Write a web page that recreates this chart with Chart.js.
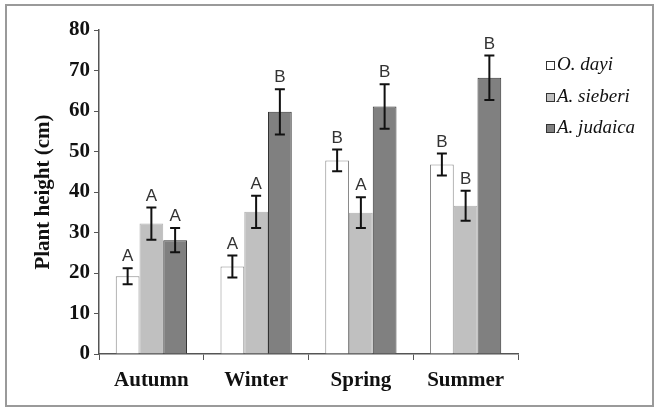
<!DOCTYPE html>
<html>
<head>
<meta charset="utf-8">
<script src="https://cdn.jsdelivr.net/npm/chart.js@4/dist/chart.umd.min.js"></script>
<style>
html, body { margin: 0; padding: 0; background: #fff; }
#wrap { position: relative; width: 658px; height: 412px; }
#frame { position: absolute; left: 5px; top: 4px; width: 645px; height: 399px; border: 2px solid #9a9a9a; pointer-events: none; }
</style>
</head>
<body>
<div id="wrap">
  <canvas id="chart" width="658" height="412"></canvas>
  <div id="frame"></div>
</div>
<script>
var seasons = ["Autumn", "Winter", "Spring", "Summer"];
var dayi = [19.2, 21.6, 47.8, 46.8];
var dayiErr = [2.0, 2.7, 2.7, 2.7];
var dayiLetters = ["A", "A", "B", "B"];
var sieberi = [32.2, 35.1, 34.9, 36.6];
var sieberiErr = [4.0, 4.0, 3.8, 3.7];
var sieberiLetters = ["A", "A", "A", "B"];
var judaica = [28.1, 59.8, 61.1, 68.2];
var judaicaErr = [3.0, 5.6, 5.5, 5.5];
var judaicaLetters = ["A", "B", "B", "B"];

// error bars and significance letters on top of each bar
var errorBars = {
  id: 'errorBars',
  afterDatasetsDraw: function(chart) {
    var ctx = chart.ctx, y = chart.scales.y;
    chart.data.datasets.forEach(function(ds, i) {
      chart.getDatasetMeta(i).data.forEach(function(bar, j) {
        var v = ds.data[j], e = ds.err[j];
        var top = y.getPixelForValue(v + e), bot = y.getPixelForValue(v - e);
        ctx.save();
        ctx.strokeStyle = '#111';
        ctx.lineWidth = 2;
        ctx.beginPath();
        ctx.moveTo(bar.x, top); ctx.lineTo(bar.x, bot);
        ctx.moveTo(bar.x - 5, top); ctx.lineTo(bar.x + 5, top);
        ctx.moveTo(bar.x - 5, bot); ctx.lineTo(bar.x + 5, bot);
        ctx.stroke();
        ctx.fillStyle = '#333';
        ctx.font = '17px "Liberation Sans"';
        ctx.textAlign = 'center';
        ctx.textBaseline = 'bottom';
        ctx.fillText(ds.letters[j], bar.x, top - 3);
        ctx.restore();
      });
    });
  }
};

// legend box on the right
var sideLegend = {
  id: 'sideLegend',
  afterDraw: function(chart) {
    var ctx = chart.ctx;
    var rows = [65, 97, 128];
    chart.data.datasets.forEach(function(ds, i) {
      var cy = rows[i];
      ctx.save();
      ctx.fillStyle = ds.backgroundColor;
      ctx.fillRect(546, cy - 4, 8, 8);
      ctx.strokeStyle = '#333';
      ctx.lineWidth = 1;
      ctx.strokeRect(546.5, cy - 3.5, 8, 8);
      ctx.fillStyle = '#111';
      ctx.font = 'italic 19px "Liberation Serif"';
      ctx.textAlign = 'left';
      ctx.textBaseline = 'middle';
      ctx.fillText(ds.label, 557, cy);
      ctx.restore();
    });
  }
};

function draw() {
  new Chart(document.getElementById('chart').getContext('2d'), {
    type: 'bar',
    data: {
      labels: seasons,
      datasets: [
        { label: 'O. dayi', data: dayi, err: dayiErr, letters: dayiLetters,
          backgroundColor: '#ffffff', borderColor: '#8a8a8a', borderWidth: 1 },
        { label: 'A. sieberi', data: sieberi, err: sieberiErr, letters: sieberiLetters,
          backgroundColor: '#c0c0c0', borderColor: '#b0b0b0', borderWidth: 1 },
        { label: 'A. judaica', data: judaica, err: judaicaErr, letters: judaicaLetters,
          backgroundColor: '#808080', borderColor: '#333333', borderWidth: 1 }
      ]
    },
    options: {
      responsive: false,
      animation: false,
      layout: { padding: { left: 0, top: 30, right: 140, bottom: 0 } },
      plugins: { legend: { display: false }, tooltip: { enabled: false } },
      datasets: { bar: { categoryPercentage: 0.68, barPercentage: 1.0 } },
      scales: {
        x: {
          offset: true,
          afterFit: function(s) { s.height = 58; },
          grid: { offset: true, drawOnChartArea: false, drawTicks: true, tickLength: 6, color: '#555' },
          border: { color: '#555', width: 1.5 },
          ticks: { color: '#111', padding: 8, font: { family: 'Liberation Serif', size: 21, weight: 'bold' } }
        },
        y: {
          min: 0, max: 80,
          afterFit: function(s) { s.width = 99; },
          grid: { drawOnChartArea: false, drawTicks: true, tickLength: 5, color: '#555' },
          border: { color: '#555', width: 1.5 },
          ticks: { stepSize: 10, color: '#111', padding: 4, font: { family: 'Liberation Serif', size: 21, weight: 'bold' } },
          title: { display: true, text: 'Plant height (cm)', color: '#111',
            padding: { top: 31, bottom: 0 },
            font: { family: 'Liberation Serif', size: 21, weight: 'bold' } }
        }
      }
    },
    plugins: [errorBars, sideLegend]
  });
}

Promise.all([
  document.fonts.load('italic 19px "Liberation Serif"'),
  document.fonts.load('bold 21px "Liberation Serif"'),
  document.fonts.load('17px "Liberation Sans"')
]).then(draw, draw);
</script>
</body>
</html>
